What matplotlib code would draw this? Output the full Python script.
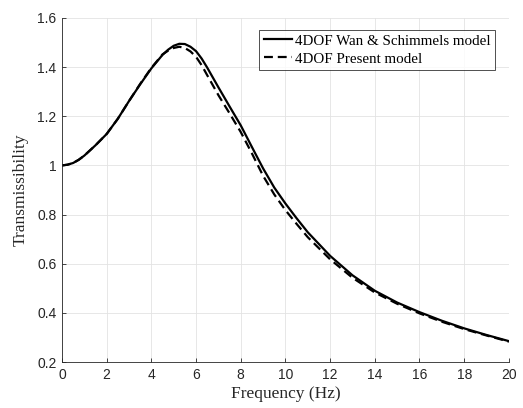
import matplotlib
matplotlib.use("Agg")
import matplotlib.pyplot as plt

# frequency points (Hz)
freq = [0, 0.25, 0.5, 0.75, 1, 1.5, 2, 2.5, 3, 3.5, 4, 4.5, 4.75, 5, 5.25, 5.5,
        5.75, 6, 6.25, 6.5, 7, 7.5, 8, 8.5, 9, 9.5, 10, 10.5, 11, 12, 13, 14,
        15, 16, 17, 18, 19, 20]

# 4DOF Wan & Schimmels model
wan = [1.000, 1.003, 1.010, 1.023, 1.040, 1.082, 1.128, 1.190, 1.262, 1.330,
       1.395, 1.450, 1.471, 1.487, 1.495, 1.494, 1.483, 1.465, 1.435, 1.398,
       1.318, 1.240, 1.163, 1.075, 0.988, 0.910, 0.845, 0.785, 0.728, 0.632,
       0.553, 0.490, 0.442, 0.403, 0.368, 0.337, 0.310, 0.285]

# 4DOF Present model
present = [1.000, 1.003, 1.010, 1.023, 1.040, 1.082, 1.128, 1.190, 1.262, 1.332,
           1.397, 1.452, 1.467, 1.478, 1.483, 1.478, 1.464, 1.442, 1.408, 1.367,
           1.286, 1.212, 1.136, 1.049, 0.958, 0.882, 0.818, 0.762, 0.708, 0.618,
           0.543, 0.483, 0.437, 0.398, 0.364, 0.334, 0.308, 0.283]

xticks = [0, 2, 4, 6, 8, 10, 12, 14, 16, 18, 20]
yticks = [0.2, 0.4, 0.6, 0.8, 1.0, 1.2, 1.4, 1.6]
ylabels = ['0.2', '0.4', '0.6', '0.8', '1', '1.2', '1.4', '1.6']

serif = 'Liberation Serif'
axcol = '#262626'

fig = plt.figure(figsize=(5.23, 4.08), dpi=100)
ax = fig.add_axes([0.1185, 0.1127, 0.8545, 0.8432])

ax.plot(freq, wan, color='black', lw=1.6, label='4DOF Wan & Schimmels model')
ax.plot(freq, present, color='black', lw=1.6, dashes=(4, 2.2),
        label='4DOF Present model')

ax.set_xlim(0, 20)
ax.set_ylim(0.2, 1.6)
ax.set_xticks(xticks)
ax.set_yticks(yticks)
ax.set_yticklabels(ylabels)
ax.tick_params(direction='in', length=3, width=0.6, colors=axcol,
               labelsize=10, pad=4)
for lab in ax.get_xticklabels() + ax.get_yticklabels():
    lab.set_family('Liberation Sans')

ax.grid(True, color='#e3e3e3', lw=0.6)
ax.set_axisbelow(True)
for s in ['top', 'right']:
    ax.spines[s].set_visible(False)
for s in ['left', 'bottom']:
    ax.spines[s].set_color(axcol)
    ax.spines[s].set_linewidth(0.6)

ax.set_xlabel('Frequency (Hz)', family=serif, fontsize=12.5, color=axcol, labelpad=3)
ax.set_ylabel('Transmissibility', family=serif, fontsize=12.5, color=axcol, labelpad=6)

leg = ax.legend(loc='upper right', bbox_to_anchor=(0.976, 0.975),
                prop={'family': serif, 'size': 10.8}, frameon=True, fancybox=False,
                handlelength=1.9, handletextpad=0.2, borderpad=0.3,
                labelspacing=0.3, borderaxespad=0.2)
leg.get_frame().set_edgecolor('black')
leg.get_frame().set_linewidth(0.6)

fig.savefig('out.png', dpi=100)
